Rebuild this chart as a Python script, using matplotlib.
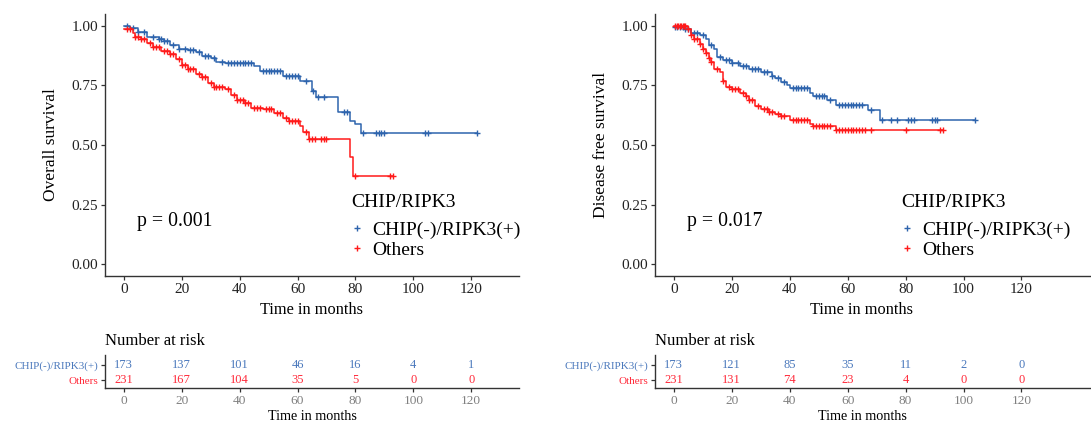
import numpy as np
import matplotlib
matplotlib.use("Agg")
import matplotlib.pyplot as plt
from matplotlib.lines import Line2D

plt.rcParams['font.family'] = ['Liberation Serif', 'DejaVu Serif']

BLUE = '#2E64AD'
RED = '#FF1A1A'
BLUE_TXT = '#4A78BC'
RED_TXT = '#FF2A3A'

group_names = ['CHIP(-)/RIPK3(+)', 'Others']
risk_ticks = [0, 20, 40, 60, 80, 100, 120]

# Overall survival, CHIP(-)/RIPK3(+)
os_blue_t = [0, 2, 5, 8, 12, 14, 16, 19, 22, 25, 27, 30, 32, 35, 45, 47, 55, 61, 65, 66.5, 74, 78, 80, 82]
os_blue_s = [1.0, 0.99, 0.975, 0.955, 0.945, 0.935, 0.92, 0.905, 0.9, 0.89, 0.875, 0.865, 0.85, 0.845,
             0.83, 0.81, 0.79, 0.77, 0.725, 0.70, 0.64, 0.60, 0.59, 0.55]
os_blue_end = 122
os_blue_cens = [1, 3, 5, 7, 10, 12, 13, 14, 15, 17, 19, 21, 23, 24, 26, 28, 29, 31, 34, 36, 37, 38, 39, 40,
                41, 42, 43, 44, 48, 49, 50, 51, 52, 53, 54, 56, 57, 58, 59, 60, 63, 65.5, 67, 69, 76, 77,
                82.5, 87, 88, 89, 90, 104, 105, 122]

# Overall survival, Others
os_red_t = [0, 3, 4, 6, 8, 10, 13, 16, 18, 20, 22, 25, 27, 29, 31, 35, 37, 39, 42, 44, 48, 52, 55, 57,
            61, 62, 64, 78, 79]
os_red_s = [0.985, 0.97, 0.955, 0.945, 0.93, 0.91, 0.895, 0.88, 0.86, 0.835, 0.82, 0.80, 0.785, 0.76,
            0.745, 0.735, 0.71, 0.69, 0.675, 0.655, 0.65, 0.635, 0.615, 0.60, 0.58, 0.555, 0.525,
            0.45, 0.37]
os_red_end = 93
os_red_cens = [1, 2, 4, 5, 6, 7, 9, 10, 11, 12, 14, 15, 16, 17, 19, 20, 21, 22, 23, 24, 26, 27, 28, 30,
               31, 32, 33, 34, 36, 38, 39, 40, 41, 42, 43, 45, 46, 47, 49, 50, 51, 53, 54, 56, 57, 58,
               59, 60, 63, 64, 65, 66, 68, 69, 70, 80, 92, 93]

# Disease free survival, CHIP(-)/RIPK3(+)
dfs_blue_t = [0, 4, 6, 9, 11, 12, 14, 15, 17, 20, 23, 26, 30, 34, 35, 37, 39, 40, 47, 48, 53, 56, 67, 71]
dfs_blue_s = [0.995, 0.985, 0.97, 0.96, 0.945, 0.92, 0.905, 0.87, 0.855, 0.845, 0.83, 0.82, 0.805,
              0.79, 0.78, 0.765, 0.75, 0.74, 0.72, 0.705, 0.69, 0.67, 0.645, 0.605]
dfs_blue_end = 104
dfs_blue_cens = [0.5, 1, 2, 3, 4, 5, 7, 8, 10, 13, 16, 18, 19, 20, 22, 24, 25, 27, 28, 29, 31, 32, 34,
                 36, 38, 41, 42, 43, 44, 45, 46, 49, 50, 51, 52, 54, 57, 58, 59, 60, 61, 62, 63, 64,
                 65, 68, 72, 75, 77, 81, 82, 83, 89, 90, 91, 104]

# Disease free survival, Others
dfs_red_t = [0, 5, 6, 7, 9, 10, 11, 12, 13, 14, 16, 17, 18, 20, 23, 25, 26, 28, 30, 33, 35, 37, 40,
             47, 48, 56]
dfs_red_s = [1.0, 0.985, 0.96, 0.945, 0.925, 0.905, 0.885, 0.865, 0.85, 0.82, 0.805, 0.77, 0.745,
             0.735, 0.72, 0.705, 0.69, 0.665, 0.65, 0.64, 0.63, 0.62, 0.605, 0.59, 0.58, 0.565]
dfs_red_end = 93
dfs_red_cens = [0.5, 1, 1.5, 2, 2.5, 3, 3.5, 4, 5, 6, 7, 8, 9, 10, 11, 12, 13, 15, 17, 19, 20, 21, 22,
                24, 25, 26, 27, 29, 31, 32, 33, 34, 36, 37, 38, 41, 42, 43, 44, 45, 46, 48, 49, 50, 51,
                52, 53, 54, 56, 57, 58, 59, 60, 61, 62, 63, 64, 65, 66, 68, 80, 92, 93]

os_risk_blue = [173, 137, 101, 46, 16, 4, 1]
os_risk_red = [231, 167, 104, 35, 5, 0, 0]
dfs_risk_blue = [173, 121, 85, 35, 11, 2, 0]
dfs_risk_red = [231, 131, 74, 23, 4, 0, 0]

panels = [
    dict(ylabel='Overall survival', p='p = 0.001',
         curves=[(os_blue_t, os_blue_s, os_blue_end, os_blue_cens, BLUE),
                 (os_red_t, os_red_s, os_red_end, os_red_cens, RED)],
         risk=[os_risk_blue, os_risk_red],
         left=105, width=414, xmax=136.5),
    dict(ylabel='Disease free survival', p='p = 0.017',
         curves=[(dfs_blue_t, dfs_blue_s, dfs_blue_end, dfs_blue_cens, BLUE),
                 (dfs_red_t, dfs_red_s, dfs_red_end, dfs_red_cens, RED)],
         risk=[dfs_risk_blue, dfs_risk_red],
         left=655, width=436, xmax=144.0),
]

W, H = 1091, 421
fig = plt.figure(figsize=(W / 100, H / 100), dpi=100)
AX_COL = '#333333'


def step_value(times, surv, t):
    idx = np.searchsorted(times, t, side='right') - 1
    return np.asarray(surv)[idx]


def style_spines(a):
    for s in ['top', 'right']:
        a.spines[s].set_visible(False)
    for s in ['left', 'bottom']:
        a.spines[s].set_color(AX_COL)
        a.spines[s].set_linewidth(1.0)


for pn in panels:
    l = pn['left'] / W
    w = pn['width'] / W
    label_x = 207 / pn['width']  # labels centred on a 414 px panel
    ax = fig.add_axes([l, 1 - 276 / H, w, 262 / H])
    for times, surv, end, cens, col in pn['curves']:
        tt = np.array(list(times) + [end])
        ss = np.array(list(surv) + [surv[-1]])
        ax.step(tt, ss, where='post', color=col, lw=1.1)
        cy = step_value(np.array(times), surv, np.array(cens))
        ax.plot(cens, cy, ls='none', marker='+', ms=5, mew=1.0, color=col)
    ax.set_xlim(-6.5, pn['xmax'])
    ax.set_ylim(-0.05, 1.05)
    ax.set_xticks([0, 20, 40, 60, 80, 100, 120])
    ax.set_yticks([0, 0.25, 0.5, 0.75, 1.0])
    ax.set_yticklabels(['0.00', '0.25', '0.50', '0.75', '1.00'])
    style_spines(ax)
    ax.tick_params(colors=AX_COL, labelsize=11, length=3, width=0.9, pad=2, labelcolor='#222222')
    ax.set_xlabel('Time in months', fontsize=11.8, labelpad=4, x=label_x)
    ax.set_ylabel(pn['ylabel'], fontsize=12.5, labelpad=9)
    ax.text(4.5, 0.16, pn['p'], fontsize=14.2, va='baseline', ha='left')

    handles = [Line2D([], [], ls='none', marker='+', ms=5, mew=1.0, color=BLUE),
               Line2D([], [], ls='none', marker='+', ms=5, mew=1.0, color=RED)]
    ax.legend(handles, group_names, loc='upper left',
              bbox_to_anchor=((pn['left'] + 244) / W, 1 - 221 / H),
              bbox_transform=fig.transFigure, frameon=False, fontsize=14,
              handlelength=0.8, handletextpad=0.4, labelspacing=0.15,
              borderpad=0, borderaxespad=0)
    fig.text((pn['left'] + 246) / W, 1 - 202 / H, 'CHIP/RIPK3', fontsize=14,
             ha='left', va='center')

    # number at risk table
    rax = fig.add_axes([l, 1 - 388 / H, w, 33 / H])
    rax.set_xlim(-6.5, pn['xmax'])
    rax.set_ylim(0.47, 2.67)
    for row, (vals, col) in enumerate(zip(pn['risk'], [BLUE_TXT, RED_TXT])):
        for x, v in zip(risk_ticks, vals):
            rax.text(x, 2 - row, str(v), color=col, fontsize=9, ha='center', va='center')
    rax.set_xticks(risk_ticks)
    rax.set_yticks([2, 1])
    rax.tick_params(axis='x', colors=AX_COL, labelsize=9.6, length=3, width=0.9, pad=2,
                    labelcolor='#808080')
    rax.tick_params(axis='y', colors=AX_COL, length=3, width=0.9, pad=2)
    rax.set_yticklabels(group_names, fontsize=8)
    for lab, col in zip(rax.get_yticklabels(), [BLUE_TXT, RED_TXT]):
        lab.set_color(col)
    style_spines(rax)
    rax.set_xlabel('Time in months', fontsize=10.2, labelpad=2, x=label_x)
    rax.set_title('Number at risk', loc='left', fontsize=12, pad=7)

fig.savefig('out.png', dpi=100)
